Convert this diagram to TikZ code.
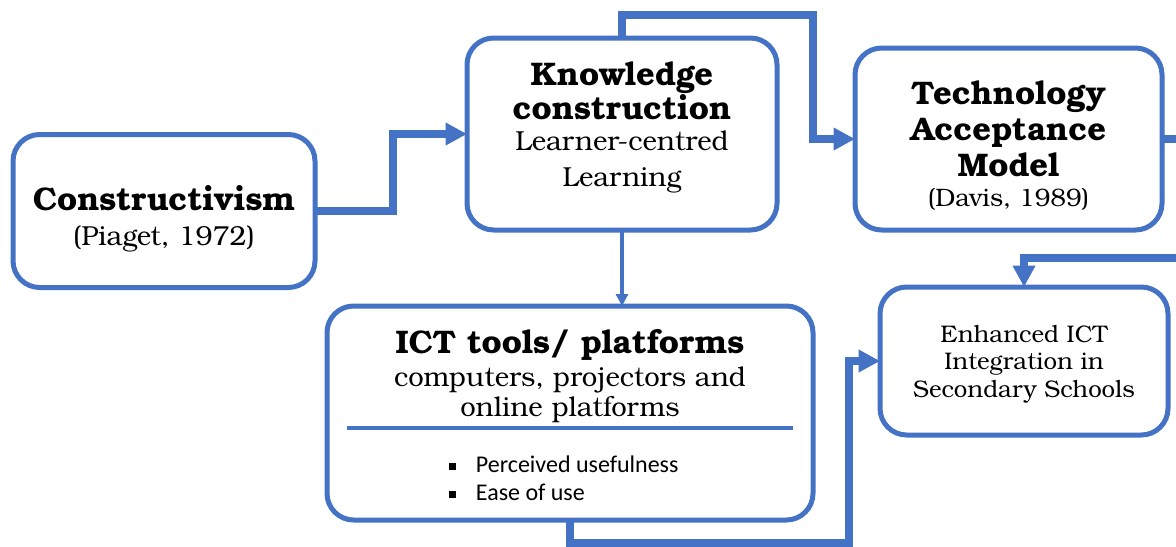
\documentclass[tikz,border=0pt]{standalone}
\usepackage{fontspec}
\setmainfont{TeX Gyre Bonum}
\newfontfamily\bulletfont{Carlito}
\usetikzlibrary{arrows.meta}
\definecolor{cblue}{HTML}{4472C4}
\newcommand{\bsz}{\fontsize{24.5}{26}\selectfont\bfseries}
\newcommand{\rsz}{\fontsize{20.6}{24}\selectfont}
\newcommand{\sqbullet}{\rule[1.6pt]{5pt}{5pt}\hspace{15pt}}
\tikzset{
  box/.style={draw=cblue, line width=3.75pt, rounded corners=20pt, fill=white,
    inner sep=0pt, outer sep=0pt},
  label/.style={align=center, inner sep=0pt, text=black},
  conn/.style={draw=cblue, line width=5.6pt, -{Triangle[length=16pt,width=16pt]}},
  thinconn/.style={draw=cblue, line width=2.3pt, -{Triangle[length=9pt,width=9pt]}},
}
\begin{document}
\begin{tikzpicture}[x=0.75pt,y=-0.75pt]
\clip (0,0) rectangle (1176,546);
\useasboundingbox (0,0) rectangle (1176,546);
\fill[white] (0,0) rectangle (1176,546);

% boxes
\node[box, minimum width=226.5pt, minimum height=114.75pt] (con) at (164,211) {};
\node[box, minimum width=232.5pt, minimum height=144pt] (kno) at (622,134) {};
\node[box, minimum width=230.25pt, minimum height=136.5pt] (tam) at (1008.5,139) {};
\node[box, minimum width=216pt, minimum height=111pt] (enh) at (1024,361) {};
\node[box, minimum width=364.5pt, minimum height=160.5pt] (ict) at (570,413) {};

% texts
\node[label, font=\fontsize{24.5}{26.25}\selectfont] (cont) at (164,219)
  {\bsz Constructivism\\
   \rsz (Piaget, 1972)};

\node[label, font=\fontsize{24.5}{27}\selectfont] (knot) at (622,127)
  {\bsz Knowledge\\[-1.5pt]
   \bsz construction\\[-3.75pt]
   \rsz Learner-centred\\
   \rsz Learning};

\node[label, font=\fontsize{24.5}{27.5}\selectfont] (tamt) at (1008.5,145.5)
  {\bsz Technology\\[-0.5pt]
   \bsz Acceptance\\[-0.5pt]
   \bsz Model\\[-5pt]
   \fontsize{18.9}{22}\selectfont (Davis, 1989)};

\node[label, font=\fontsize{18}{20.6}\selectfont] (enht) at (1024,364)
  {Enhanced ICT\\
   Integration in\\
   Secondary Schools};

\node[label, font=\fontsize{24.5}{24.75}\selectfont] (ictt) at (570,376)
  {\bsz ICT tools/ platforms\\
   \rsz computers, projectors and\\[-2.25pt]
   \rsz online platforms};

\coordinate (dl) at (347,428);
\coordinate (dr) at (793,428);
\draw[cblue, line width=3pt] (dl) -- (dr);

\node[align=left, inner sep=0pt, anchor=west, font=\fontsize{18}{21}\bulletfont] (ictb) at (449,478)
  {\sqbullet Perceived usefulness\\
   \sqbullet Ease of use};

% connectors
\draw[conn] (con.east) -- ++(78,0) |- (kno.west);
\draw[conn] (kno.north) |- (813,15) |- (tam.west);
\draw[thinconn] (kno.south) -- (kno.south |- ict.north);
\draw[conn] (ict.south) |- (849,543) |- (enh.west);
\draw[conn] (tam.east) -| (1190,258) -| (enh.north);
\end{tikzpicture}
\end{document}
